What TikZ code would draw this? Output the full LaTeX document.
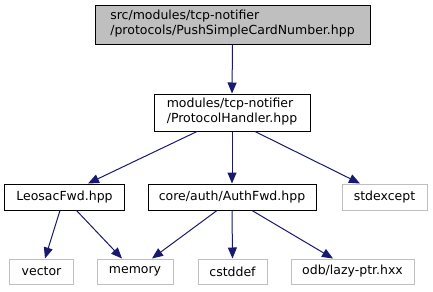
\documentclass[tikz,border=0pt]{standalone}
\usepackage{fontspec}
\setmainfont{DejaVu Sans}
\usetikzlibrary{arrows.meta,calc}
\definecolor{edgeblue}{HTML}{191970}
\definecolor{extgray}{HTML}{BFBFBF}
\tikzset{
  box/.style={draw=black, line width=1bp, fill=white, inner sep=0pt,
    align=left, font=\fontsize{12.5bp}{15bp}\selectfont},
  mainbox/.style={box, fill=extgray},
  extbox/.style={box, draw=extgray},
  dep/.style={draw=edgeblue, line width=1bp,
    -{Triangle[length=11bp,width=9bp]}},
}
\begin{document}
\begin{tikzpicture}[x=1bp,y=-1bp]
\useasboundingbox (0,0) rectangle (433,291);
% files
\node[mainbox, minimum width=275bp, minimum height=39bp] (top) at (232.5,24.5)
  {src/modules/tcp-notifier\\/protocols/PushSimpleCardNumber.hpp\strut};
\node[box, minimum width=156bp, minimum height=37bp] (ph) at (232,112.5)
  {modules/tcp-notifier\\/ProtocolHandler.hpp\strut};
\node[box, minimum width=119bp, minimum height=26bp] (leo) at (64.5,197)
  {LeosacFwd.hpp};
\node[box, minimum width=168bp, minimum height=26bp] (auth) at (232,197)
  {core/auth/AuthFwd.hpp};
\node[extbox, minimum width=85bp, minimum height=26bp] (stdexc) at (384.5,197)
  {stdexcept};
\node[extbox, minimum width=63bp, minimum height=25bp] (vec) at (41.5,271.5)
  {vector};
\node[extbox, minimum width=76bp, minimum height=25bp] (mem) at (135,271.5)
  {memory};
\node[extbox, minimum width=69bp, minimum height=25bp] (cst) at (232.5,271.5)
  {cstddef};
\node[extbox, minimum width=123bp, minimum height=25bp] (odb) at (352.5,271.5)
  {odb/lazy-ptr.hxx};
% include dependencies
\draw[dep] (top.south) -- (ph.north);
\draw[dep] ($(ph.south)+(-35,0)$) -- ($(leo.north)+(23.5,0)$);
\draw[dep] (ph.south) -- (auth.north);
\draw[dep] ($(ph.south)+(23,0)$) -- ($(stdexc.north)+(-24.5,0)$);
\draw[dep] ($(leo.south)+(-4.5,0)$) -- ($(vec.north)+(3.5,0)$);
\draw[dep] ($(leo.south)+(12,0)$) -- ($(mem.north)+(-13,0)$);
\draw[dep] ($(auth.south)+(-15,0)$) -- ($(mem.north)+(17,0)$);
\draw[dep] (auth.south) -- (cst.north);
\draw[dep] ($(auth.south)+(20,0)$) -- ($(odb.north)+(-19.5,0)$);
\end{tikzpicture}
\end{document}
